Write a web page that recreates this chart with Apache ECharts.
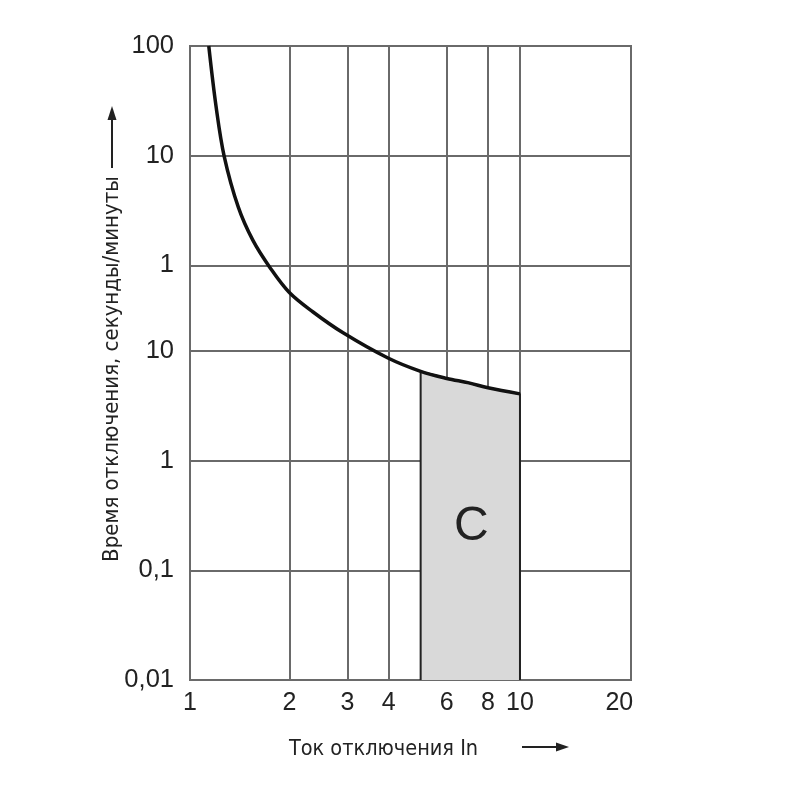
<!DOCTYPE html>
<html>
<head>
<meta charset="utf-8">
<script src="https://cdn.jsdelivr.net/npm/echarts@6/dist/echarts.min.js"></script>
<style>
  html, body { margin: 0; padding: 0; background: #fff; }
  #chart { width: 800px; height: 800px; }
</style>
</head>
<body>
<div id="chart"></div>
<script>
// trip current, multiples of In
var xTickValues = [1, 2, 3, 4, 6, 8, 10, 20];
var xGridValues = [2, 3, 4, 6, 8, 10];
// time axis kept in seconds: 1 min = 60 s, 10 min = 600 s, 100 min = 6000 s
var yTickValues = [0.01, 0.1, 1, 10, 60, 600, 6000];
var yTickLabels = ['0,01', '0,1', '1', '10', '1', '10', '100'];

// thermal release curve [current, seconds]
var curveCurrent = [1.14, 1.2, 1.27, 1.4, 1.55, 1.75, 2, 2.36, 2.91, 3.98, 5, 6, 7, 8, 10];
var curveTime    = [6000, 1670, 590, 205, 102, 57, 34, 22.6, 14.6, 8.6, 6.5, 5.6, 5.1, 4.6, 4.05];

// magnetic trip band of type C: 5..10 In
var bandStart = 5;
var bandEnd = 10;
var bandName = 'C';

var chart = echarts.init(document.getElementById('chart'));

var curveData = curveCurrent.map(function (c, i) { return [c, curveTime[i]]; });
var yMin = yTickValues[0];
var bandData = [[bandStart, yMin]];
curveData.forEach(function (p) {
  if (p[0] >= bandStart && p[0] <= bandEnd) bandData.push(p);
});
bandData.push([bandEnd, yMin]);

var textFont = "'Liberation Sans', Arial, sans-serif";
var narrowFont = "'Liberation Sans Narrow', 'Arial Narrow', 'DejaVu Sans Condensed', sans-serif";

var option = {
  animation: false,
  backgroundColor: '#fff',
  grid: {
    left: 190,
    right: 169,
    top: 46,
    bottom: 120,
    show: true,
    borderColor: '#6a6a6a',
    borderWidth: 2
  },
  xAxis: {
    type: 'log',
    logBase: 10,
    min: 1,
    max: 21.7,
    name: 'Ток отключения In',
    nameLocation: 'middle',
    nameGap: 58,
    nameTextStyle: {
      fontFamily: narrowFont,
      fontSize: 21.5,
      color: '#222',
      padding: [0, 54, 0, 0]
    },
    axisLine: { show: false },
    axisTick: { show: false, customValues: xGridValues },
    axisLabel: {
      customValues: xTickValues,
      fontFamily: textFont,
      fontSize: 25,
      color: '#222',
      margin: 11
    },
    splitLine: { show: true, lineStyle: { color: '#6a6a6a', width: 2 } }
  },
  yAxis: {
    type: 'log',
    logBase: 10,
    min: 0.01,
    max: 6000,
    name: 'Время отключения, секунды/минуты',
    nameLocation: 'middle',
    nameRotate: 90,
    nameGap: 67,
    nameMoveOverlap: false,
    nameTextStyle: {
      fontFamily: narrowFont,
      fontSize: 22,
      color: '#222',
      padding: [0, 12, 0, 0]
    },
    axisLine: { show: false },
    axisTick: { show: false, customValues: yTickValues },
    axisLabel: {
      customValues: yTickValues,
      fontFamily: textFont,
      fontSize: 25.5,
      color: '#222',
      margin: 16,
      formatter: function (v) {
        for (var i = 0; i < yTickValues.length; i++) {
          if (Math.abs(Math.log10(v) - Math.log10(yTickValues[i])) < 1e-6) return yTickLabels[i];
        }
        return '';
      }
    },
    splitLine: { show: true, lineStyle: { color: '#6a6a6a', width: 2 } }
  },
  series: [
    {
      name: 'band',
      type: 'line',
      data: bandData,
      symbol: 'none',
      z: 3,
      lineStyle: { color: '#222', width: 2 },
      areaStyle: { color: '#d9d9d9', opacity: 1, origin: 'start' }
    },
    {
      name: 'curve',
      type: 'line',
      data: curveData,
      symbol: 'none',
      smooth: 0.35,
      z: 4,
      lineStyle: { color: '#111', width: 3.5 }
    }
  ],
  graphic: [
    {
      type: 'text',
      left: 454,
      top: 503,
      z: 100,
      style: { text: bandName, font: '48px ' + textFont, fill: '#222' }
    },
    // arrow next to the y axis name
    {
      type: 'line',
      z: 100,
      shape: { x1: 112, y1: 168, x2: 112, y2: 118 },
      style: { stroke: '#222', lineWidth: 2 }
    },
    {
      type: 'polygon',
      z: 100,
      shape: { points: [[112, 106], [107.5, 120], [116.5, 120]] },
      style: { fill: '#222' }
    },
    // arrow next to the x axis name
    {
      type: 'line',
      z: 100,
      shape: { x1: 522, y1: 747, x2: 558, y2: 747 },
      style: { stroke: '#222', lineWidth: 2 }
    },
    {
      type: 'polygon',
      z: 100,
      shape: { points: [[569, 747], [556, 742.5], [556, 751.5]] },
      style: { fill: '#222' }
    }
  ]
};

chart.setOption(option);
</script>
</body>
</html>
